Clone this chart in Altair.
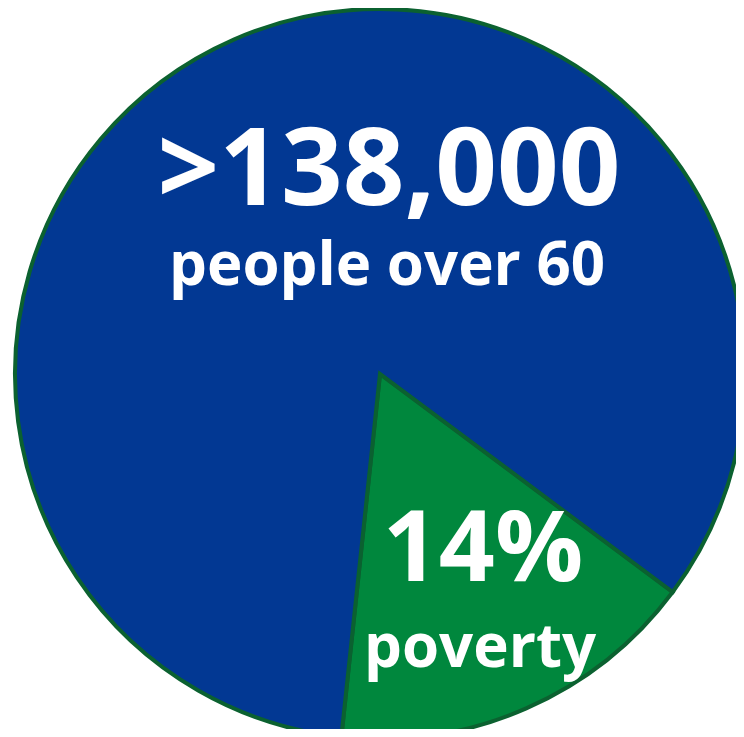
import altair as alt
import pandas as pd

# Pie shares as drawn (percent of circle)
segments = ["poverty", "other"]
shares = [16.5, 83.5]
colors = ["#00873d", "#023893"]

headline = ">138,000"
headline_sub = "people over 60"
slice_value = "14%"
slice_sub = "poverty"

df = pd.DataFrame({"segment": segments, "share": shares, "order": [0, 1]})

START = 2.211  # radians: where the green slice starts (clockwise from 12 o'clock)
TWO_PI = 6.283185307

pie = alt.Chart(df).mark_arc(
    outerRadius=365, stroke="#0b6130", strokeWidth=4, strokeJoin="miter"
).encode(
    theta=alt.Theta("share:Q", stack=True, scale=alt.Scale(range=[START, START + TWO_PI])),
    order=alt.Order("order:Q"),
    color=alt.Color("segment:N", scale=alt.Scale(domain=segments, range=colors), legend=None),
    x=alt.value(372),
    y=alt.value(366),
)

def label(txt, x, y, size):
    return alt.Chart(pd.DataFrame({"t": [txt]})).mark_text(
        font="Open Sans", fontWeight="bold", fontSize=size, color="white",
        align="center", baseline="alphabetic"
    ).encode(text="t:N", x=alt.value(x), y=alt.value(y))

chart = alt.layer(
    pie,
    label(headline, 381, 197, 108),
    label(headline_sub, 379, 277, 60),
    label(slice_value, 475, 573, 98),
    label(slice_sub, 472, 659, 60),
).properties(
    width=728, height=721, padding=0, autosize="none"
).configure_view(stroke=None)

chart.save("out.html", embed_options={"renderer": "svg", "actions": False})
